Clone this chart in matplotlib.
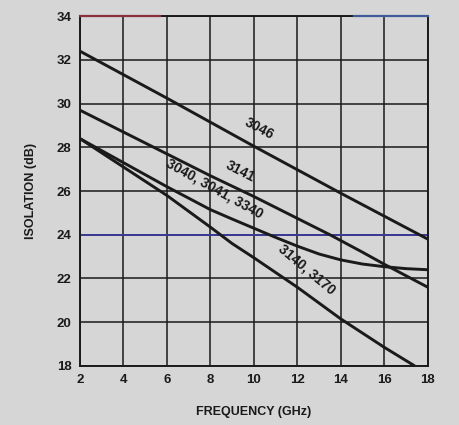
import matplotlib
matplotlib.use("Agg")
import matplotlib.pyplot as plt

plt.rcParams["font.family"] = ["Liberation Sans", "DejaVu Sans"]

# Isolation curves (GHz, dB)
freq_3046 = [2, 6, 10, 14, 18]
iso_3046 = [32.4, 30.25, 28.05, 25.9, 23.8]

freq_3141 = [2, 4, 6, 8, 10, 12, 13.5, 15, 16, 18]
iso_3141 = [29.7, 28.7, 27.7, 26.7, 25.75, 24.75, 24.0, 23.2, 22.65, 21.6]

freq_3040 = [2, 4, 6, 8, 9, 10, 11, 12, 13, 14, 15, 16, 17, 18]
iso_3040 = [28.4, 27.3, 26.2, 25.15, 24.72, 24.3, 23.88, 23.48, 23.12, 22.85, 22.66, 22.54, 22.45, 22.4]

freq_3140 = [2, 4, 6, 8, 8.4, 9, 10, 12, 14, 16, 17.4]
iso_3140 = [28.4, 27.1, 25.8, 24.35, 24.05, 23.6, 22.95, 21.6, 20.15, 18.85, 18.0]

x_ticks = [2, 4, 6, 8, 10, 12, 14, 16, 18]
y_ticks = [18, 20, 22, 24, 26, 28, 30, 32, 34]

# curve labels: text, x, y, rotation
labels = [
    ("3046", 10.25, 28.85, -28),
    ("3141", 9.4, 26.9, -27),
    ("3040, 3041, 3340", 8.2, 26.1, -29),
    ("3140, 3170", 12.45, 22.4, -40),
]

paper = "#d6d6d6"
ink = "#1a1a1a"

fig = plt.figure(figsize=(4.59, 4.25), dpi=100, facecolor=paper)
ax = fig.add_axes([0.174, 0.139, 0.758, 0.823])
ax.set_facecolor(paper)

ax.set_xlim(2, 18)
ax.set_ylim(18, 34)
ax.set_xticks(x_ticks)
ax.set_yticks(y_ticks)
ax.tick_params(length=0, pad=6, labelsize=9.5, colors=ink)
for lbl in ax.get_xticklabels() + ax.get_yticklabels():
    lbl.set_fontweight("bold")

ax.grid(True, color=ink, linewidth=1.1)
ax.set_axisbelow(True)
for s in ax.spines.values():
    s.set_color(ink)
    s.set_linewidth(1.4)

# tinted lines from the scan: blue 24 dB line, reddish top-left border
ax.axhline(24, color="#3b3b96", linewidth=1.4, zorder=1.5)
ax.plot([2, 5.7], [34, 34], color="#8c2f3c", linewidth=1.6, clip_on=False, zorder=3)
ax.plot([14.6, 18], [34, 34], color="#3d5a9a", linewidth=1.6, clip_on=False, zorder=3)

for fx, fy in [(freq_3046, iso_3046), (freq_3141, iso_3141),
               (freq_3040, iso_3040), (freq_3140, iso_3140)]:
    ax.plot(fx, fy, color=ink, linewidth=2.1, solid_capstyle="butt", clip_on=False, zorder=2)

for text, lx, ly, rot in labels:
    ax.text(lx, ly, text, rotation=rot, rotation_mode="anchor", ha="center", va="center",
            fontsize=10, fontweight="bold", color=ink)

ax.set_xlabel("FREQUENCY (GHz)", fontsize=9, fontweight="bold", color=ink, labelpad=14)
ax.set_ylabel("ISOLATION (dB)", fontsize=9, fontweight="bold", color=ink, labelpad=14)

fig.savefig("out.png", dpi=100, facecolor=paper)
